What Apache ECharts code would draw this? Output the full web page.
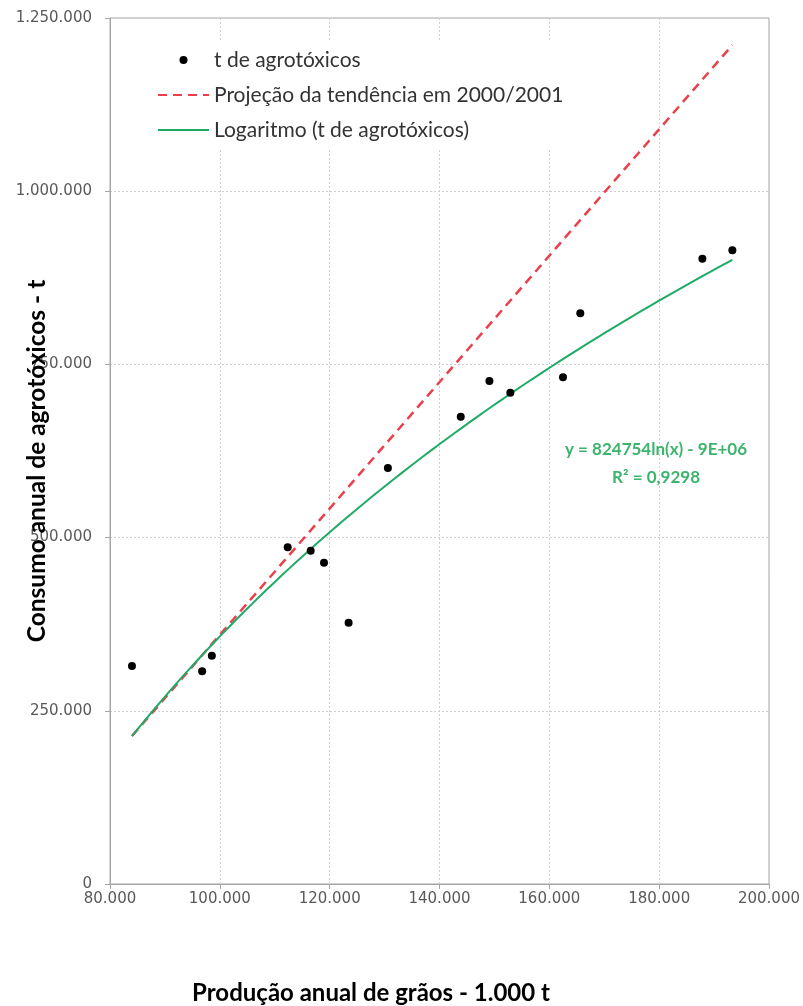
<!DOCTYPE html>
<html>
<head>
<meta charset="utf-8">
<script src="https://cdn.jsdelivr.net/npm/echarts@6/dist/echarts.min.js"></script>
<style>
  html, body { margin: 0; padding: 0; background: #fff; }
  #chart { width: 803px; height: 1006px; }
</style>
</head>
<body>
<div id="chart"></div>
<script>
// Produção anual de grãos (1.000 t) e consumo anual de agrotóxicos (t)
const producaoGraos = [84000, 96780, 98545, 112360, 116545, 118970, 123450, 130600, 143870, 149090, 152900, 162490, 165640, 187870, 193330];
const consumoAgrotoxicos = [314700, 307000, 329500, 486000, 481100, 463800, 377200, 600500, 674500, 726000, 709200, 731400, 823800, 902600, 914700];

// Projeção da tendência em 2000/2001 (reta entre os extremos)
const projecaoX = [84000, 193330];
const projecaoY = [213600, 1211000];

// Linha de tendência logarítmica: y = a·ln(x) + b
const trendSlope = 824754;
const trendIntercept = -9138000;
const trendLabel = ['y = 824754ln(x) - 9E+06', 'R² = 0,9298'];

const xTicks = { min: 80000, max: 200000, interval: 20000 };
const yTicks = { min: 0, max: 1250000, interval: 250000 };

const seriesNames = ['t de agrotóxicos', 'Projeção da tendência em 2000/2001', 'Logaritmo (t de agrotóxicos)'];
const xTitle = 'Produção anual de grãos - 1.000 t';
const yTitle = 'Consumo anual de agrotóxicos - t';

function fmt(v) {
  return String(v).replace(/\B(?=(\d{3})+(?!\d))/g, '.');
}

const scatterData = producaoGraos.map((x, i) => [x, consumoAgrotoxicos[i]]);
const projecaoData = projecaoX.map((x, i) => [x, projecaoY[i]]);

const xMinData = Math.min(...producaoGraos);
const xMaxData = Math.max(...producaoGraos);
const trendData = [];
const steps = 80;
for (let i = 0; i <= steps; i++) {
  const x = xMinData + (xMaxData - xMinData) * i / steps;
  trendData.push([x, trendSlope * Math.log(x) + trendIntercept]);
}

const GREEN_LINE = '#1FAA66';
const GREEN_TEXT = '#3CB46E';
const RED = '#E8404C';
const AXIS_GRAY = '#a6a6a6';
const GRID_GRAY = '#cfcfcf';
const LABEL_GRAY = '#595959';

const chart = echarts.init(document.getElementById('chart'), null, { renderer: 'canvas' });

chart.setOption({
  animation: false,
  backgroundColor: '#ffffff',
  grid: {
    left: 110, right: 34, top: 18, bottom: 122,
    show: true, borderColor: AXIS_GRAY, borderWidth: 1, backgroundColor: 'transparent'
  },
  legend: {
    data: [
      { name: seriesNames[0] },
      { name: seriesNames[1], itemStyle: { opacity: 0 } },
      { name: seriesNames[2], itemStyle: { opacity: 0 } }
    ],
    orient: 'vertical',
    left: 152, top: 42,
    padding: [5, 8, 5, 5],
    backgroundColor: '#ffffff',
    itemWidth: 51, itemHeight: 8, itemGap: 9,
    textStyle: { fontFamily: 'Lato', fontSize: 21, color: '#333333', lineHeight: 26 },
    selectedMode: false,
    z: 6
  },
  xAxis: {
    type: 'value',
    min: xTicks.min, max: xTicks.max, interval: xTicks.interval,
    axisLine: { show: true, lineStyle: { color: AXIS_GRAY, width: 1 } },
    axisTick: { show: true, length: 5, lineStyle: { color: AXIS_GRAY } },
    axisLabel: { margin: 8, color: LABEL_GRAY, fontFamily: 'DejaVu Sans', fontSize: 15, formatter: fmt },
    splitLine: { show: true, lineStyle: { color: GRID_GRAY, type: [2, 2], width: 1 } }
  },
  yAxis: {
    type: 'value',
    min: yTicks.min, max: yTicks.max, interval: yTicks.interval,
    axisLine: { show: true, lineStyle: { color: AXIS_GRAY, width: 1 } },
    axisTick: { show: true, length: 5, lineStyle: { color: AXIS_GRAY } },
    axisLabel: { margin: 18, color: LABEL_GRAY, fontFamily: 'DejaVu Sans', fontSize: 15, formatter: fmt },
    splitLine: { show: true, lineStyle: { color: GRID_GRAY, type: [2, 2], width: 1 } }
  },
  series: [
    {
      name: seriesNames[0],
      type: 'scatter',
      data: scatterData,
      symbol: 'circle',
      symbolSize: 8,
      itemStyle: { color: '#000000', opacity: 1 },
      z: 5
    },
    {
      name: seriesNames[1],
      type: 'line',
      data: projecaoData,
      symbol: 'none',
      lineStyle: { color: RED, width: 2.5, type: [9, 6] },
      itemStyle: { color: RED },
      z: 3
    },
    {
      name: seriesNames[2],
      type: 'line',
      data: trendData,
      symbol: 'none',
      smooth: false,
      lineStyle: { color: GREEN_LINE, width: 2 },
      itemStyle: { color: GREEN_LINE },
      z: 4
    }
  ],
  graphic: [
    {
      type: 'text',
      x: 656, y: 464,
      style: {
        text: trendLabel.join('\n'),
        fill: GREEN_TEXT,
        font: 'bold 17px Lato',
        lineHeight: 28,
        align: 'center',
        verticalAlign: 'middle'
      },
      z: 10
    },
    {
      type: 'text',
      x: 371, y: 993,
      style: {
        text: xTitle,
        fill: '#000000',
        font: 'bold 24px Lato',
        align: 'center',
        verticalAlign: 'middle'
      },
      z: 10
    },
    {
      type: 'text',
      x: 37, y: 461,
      rotation: Math.PI / 2,
      style: {
        text: yTitle,
        fill: '#000000',
        font: 'bold 24.5px Lato',
        align: 'center',
        verticalAlign: 'middle'
      },
      z: 10
    }
  ]
});
</script>
</body>
</html>
